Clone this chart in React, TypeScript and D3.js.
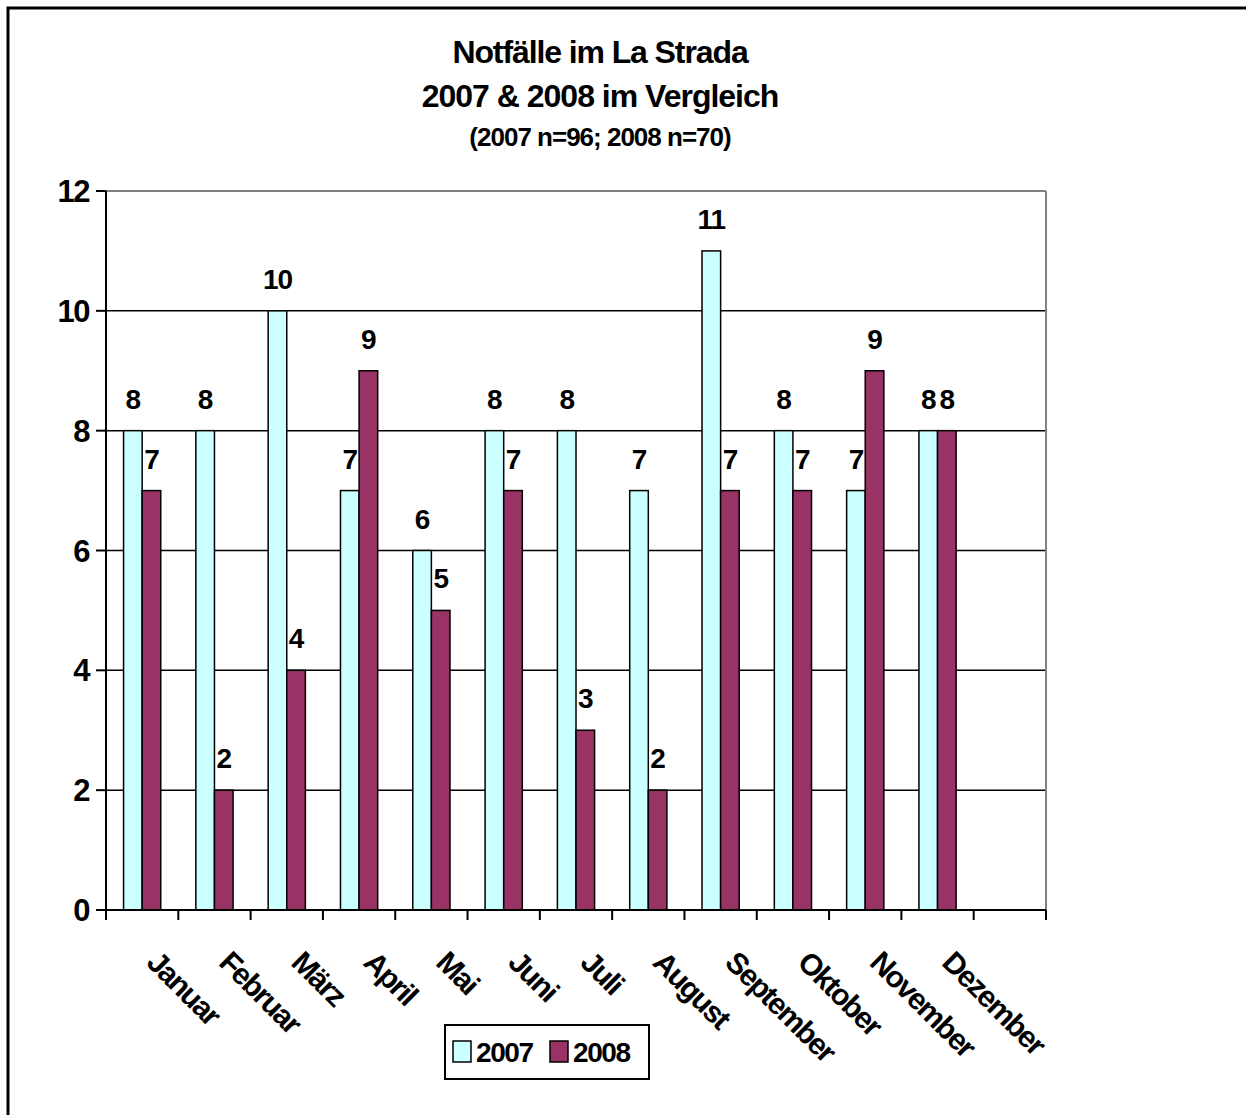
import React from "react";
import * as d3 from "d3";

const months = ["Januar", "Februar", "März", "April", "Mai", "Juni", "Juli", "August", "September", "Oktober", "November", "Dezember"];
const seriesNames = ["2007", "2008"];
const values2007 = [8, 8, 10, 7, 6, 8, 8, 7, 11, 8, 7, 8];
const values2008 = [7, 2, 4, 9, 5, 7, 3, 2, 7, 7, 9, 8];
const yTicks = [0, 2, 4, 6, 8, 10, 12];
const titleLines = ["Notfälle im La Strada", "2007 & 2008 im Vergleich", "(2007 n=96; 2008 n=70)"];
const colors = ["#CCFFFF", "#993366"];

const W = 1246;
const H = 1115;
const plot = { left: 106, right: 1046, top: 191, bottom: 910 };
const FONT = "'Liberation Sans', Arial, sans-serif";

export default function App() {
  const slots = [...months, ""];
  const x0 = d3.scaleBand<string>().domain(slots).range([plot.left, plot.right]).paddingInner(0).paddingOuter(0);
  const x1 = d3.scaleBand<string>().domain(seriesNames).range([0, x0.bandwidth()]).paddingInner(0).paddingOuter(0.944);
  const y = d3.scaleLinear().domain([0, 12]).range([plot.bottom, plot.top]);
  const series = [values2007, values2008];
  const tickXs = slots.map((s) => x0(s) as number).concat([plot.right]);

  return (
    <svg width={W} height={H} style={{ position: "absolute", left: 0, top: 0, background: "#fff" }} fontFamily={FONT}>
      <rect x={0} y={0} width={W} height={H} fill="#fff" />
      <rect x={8} y={8} width={W + 20} height={H + 20} fill="none" stroke="#000" strokeWidth={3} />

      {/* titles */}
      <text x={600} y={63} textAnchor="middle" fontWeight="bold" fontSize={32} letterSpacing={-1.1}>{titleLines[0]}</text>
      <text x={600} y={107} textAnchor="middle" fontWeight="bold" fontSize={32} letterSpacing={-1.0}>{titleLines[1]}</text>
      <text x={600} y={146} textAnchor="middle" fontWeight="bold" fontSize={26} letterSpacing={-1.0}>{titleLines[2]}</text>

      {/* gridlines */}
      {yTicks.filter((t) => t > 0 && t < 12).map((t) => (
        <line key={"g" + t} x1={plot.left} x2={plot.right} y1={y(t)} y2={y(t)} stroke="#000" strokeWidth={1.5} />
      ))}
      {/* plot area border (top & right gray) */}
      <line x1={plot.left} x2={plot.right} y1={y(12)} y2={y(12)} stroke="#808080" strokeWidth={2} />
      <line x1={plot.right} x2={plot.right} y1={plot.top} y2={plot.bottom} stroke="#808080" strokeWidth={2} />

      {/* bars */}
      {series.map((vals, si) =>
        vals.map((v, i) => (
          <rect
            key={`b${si}-${i}`}
            x={(x0(months[i]) as number) + (x1(seriesNames[si]) as number)}
            y={y(v)}
            width={x1.bandwidth()}
            height={y(0) - y(v)}
            fill={colors[si]}
            stroke="#000"
            strokeWidth={1.5}
          />
        ))
      )}

      {/* axes */}
      <line x1={plot.left} x2={plot.left} y1={plot.top} y2={plot.bottom} stroke="#000" strokeWidth={2} />
      <line x1={plot.left} x2={plot.right} y1={plot.bottom} y2={plot.bottom} stroke="#000" strokeWidth={2} />
      {yTicks.map((t) => (
        <g key={"y" + t}>
          <line x1={plot.left - 10} x2={plot.left} y1={y(t)} y2={y(t)} stroke="#000" strokeWidth={2} />
          <text x={89} y={y(t)} dy="0.36em" textAnchor="end" fontWeight="bold" fontSize={31} letterSpacing={-1.5}>{t}</text>
        </g>
      ))}
      {tickXs.map((tx, i) => (
        <line key={"xt" + i} x1={tx} x2={tx} y1={plot.bottom} y2={plot.bottom + 10} stroke="#000" strokeWidth={2} />
      ))}

      {/* category labels */}
      {months.map((m) => {
        const cx = (x0(m) as number) + x0.bandwidth() / 2;
        const ax = cx + 3;
        const ay = 964;
        return (
          <text key={"c" + m} x={ax} y={ay} transform={`rotate(45 ${ax} ${ay})`} fontWeight="bold" fontSize={30} letterSpacing={-1.6}>{m}</text>
        );
      })}

      {/* data labels */}
      {series.map((vals, si) =>
        vals.map((v, i) => (
          <text
            key={`l${si}-${i}`}
            x={(x0(months[i]) as number) + (x1(seriesNames[si]) as number) + x1.bandwidth() / 2}
            y={y(v) - 22}
            textAnchor="middle"
            fontWeight="bold"
            fontSize={28}
            letterSpacing={-1}
          >
            {v}
          </text>
        ))
      )}

      {/* legend */}
      <rect x={445} y={1025} width={204} height={54} fill="#fff" stroke="#000" strokeWidth={2} />
      {seriesNames.map((s, i) => (
        <g key={"lg" + s} transform={`translate(${453 + i * 97},0)`}>
          <rect x={0} y={1041} width={18} height={21} fill={colors[i]} stroke="#000" strokeWidth={1.5} />
          <text x={23} y={1062} fontWeight="bold" fontSize={28} letterSpacing={-1.4}>{s}</text>
        </g>
      ))}
    </svg>
  );
}
